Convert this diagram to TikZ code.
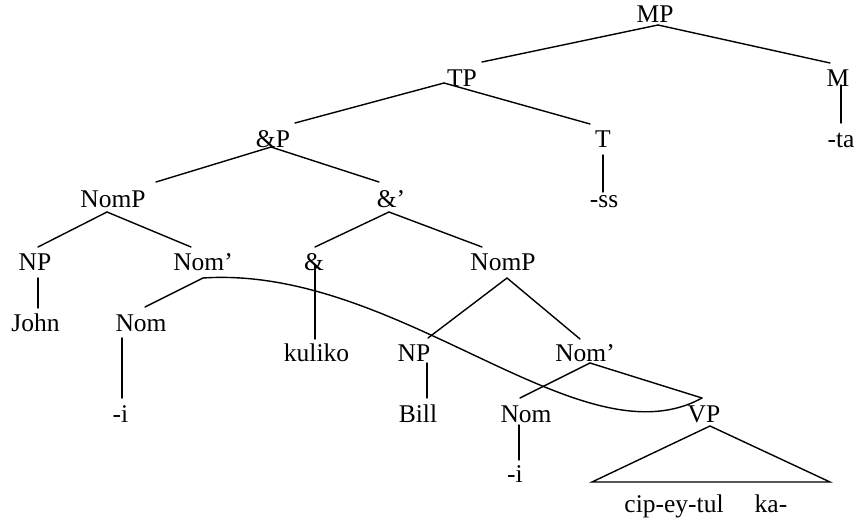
\documentclass[tikz,border=0pt]{standalone}
\usepackage{fontspec}
\setmainfont{Liberation Serif}
\usetikzlibrary{calc}
\begin{document}
\begin{tikzpicture}[x=1pt,y=-1pt,
  lbl/.style={inner sep=0pt, anchor=base, font=\fontsize{25.5}{30}\selectfont},
  edge/.style={line width=1.4pt, line cap=round}]
\useasboundingbox (0,0) rectangle (856,522);
% nodes
\node[lbl] (MP) at (655,23) {MP};
\node[lbl] (TP) at (462,86) {TP};
\node[lbl] (M) at (838,86) {M};
\node[lbl] (andP) at (273,147) {\&P};
\node[lbl] (T) at (603,147) {T};
\node[lbl] (ta) at (841,147) {-ta};
\node[lbl] (NomP) at (113,207) {NomP};
\node[lbl] (andbar) at (391,207) {\&’};
\node[lbl] (ss) at (604,207) {-ss};
\node[lbl] (NPa) at (35,270) {NP};
\node[lbl] (Nombar) at (203,270) {Nom’};
\node[lbl] (and) at (314,270) {\&};
\node[lbl] (NomPb) at (503,270) {NomP};
\node[lbl] (John) at (35.5,331) {John};
\node[lbl] (Nom) at (141,331) {Nom};
\node[lbl] (kuliko) at (316.5,361) {kuliko};
\node[lbl] (NPb) at (414,361) {NP};
\node[lbl] (Nombarb) at (585,361) {Nom’};
\node[lbl] (ia) at (120.5,422) {-i};
\node[lbl] (Bill) at (418,422) {Bill};
\node[lbl] (Nomb) at (526,422) {Nom};
\node[lbl] (VP) at (704,422) {VP};
\node[lbl] (ib) at (515,482) {-i};
\node[lbl] (cip) at (674,512) {cip-ey-tul};
\node[lbl] (ka) at (771,512) {ka-};
% edges
\draw[edge] ($(MP.base)+(3,2)$) -- ($(TP.base)+(20,-24)$);
\draw[edge] ($(MP.base)+(3,2)$) -- ($(M.base)+(-8,-23)$);
\draw[edge] ($(TP.base)+(-18,-3)$) -- ($(andP.base)+(22,-24)$);
\draw[edge] ($(TP.base)+(-18,-3)$) -- ($(T.base)+(-13,-23)$);
\draw[edge] ($(T.base)+(0,8)$) -- ($(ss.base)+(-1,-15)$);
\draw[edge] ($(M.base)+(3,-1)$) -- ($(ta.base)+(0,-24)$);
\draw[edge] ($(andP.base)+(-2,0)$) -- ($(NomP.base)+(43,-25)$);
\draw[edge] ($(andP.base)+(-2,0)$) -- ($(andbar.base)+(-12,-25)$);
\draw[edge] ($(NomP.base)+(-6,5)$) -- ($(NPa.base)+(3,-23)$);
\draw[edge] ($(NomP.base)+(-6,5)$) -- ($(Nombar.base)+(-12,-23)$);
\draw[edge] ($(andbar.base)+(-2,5)$) -- ($(and.base)+(1,-23)$);
\draw[edge] ($(andbar.base)+(-2,5)$) -- ($(NomPb.base)+(-21,-23)$);
\draw[edge] ($(NPa.base)+(3,8)$) -- ($(John.base)+(2.5,-23)$);
\draw[edge] ($(Nombar.base)+(0,8)$) -- ($(Nom.base)+(4,-24)$);
\draw[edge] ($(and.base)+(1,-5)$) -- ($(kuliko.base)+(-1.5,-22)$);
\draw[edge] ($(NomPb.base)+(4,8)$) -- ($(NPb.base)+(14,-23)$);
\draw[edge] ($(NomPb.base)+(4,8)$) -- ($(Nombarb.base)+(-5,-22)$);
\draw[edge] ($(Nom.base)+(-19,7)$) -- ($(ia.base)+(1.5,-24)$);
\draw[edge] ($(NPb.base)+(13,2)$) -- ($(Bill.base)+(9,-24)$);
\draw[edge] ($(Nombarb.base)+(5,2)$) -- ($(Nomb.base)+(-6,-24)$);
\draw[edge] ($(Nombarb.base)+(5,2)$) -- ($(VP.base)+(-2,-24)$);
\draw[edge] ($(Nomb.base)+(-7,3)$) -- ($(ib.base)+(4,-22)$);
% triangle under VP
\draw[edge] ($(VP.base)+(6,4)$) -- ($(VP.base)+(-112,60)$) -- ($(VP.base)+(126,60)$) -- cycle;
% curved movement line
\draw[edge] ($(Nombar.base)+(0,8)$) .. controls (400,265) and (580,465) .. ($(VP.base)+(-2,-24)$);
\end{tikzpicture}
\end{document}
